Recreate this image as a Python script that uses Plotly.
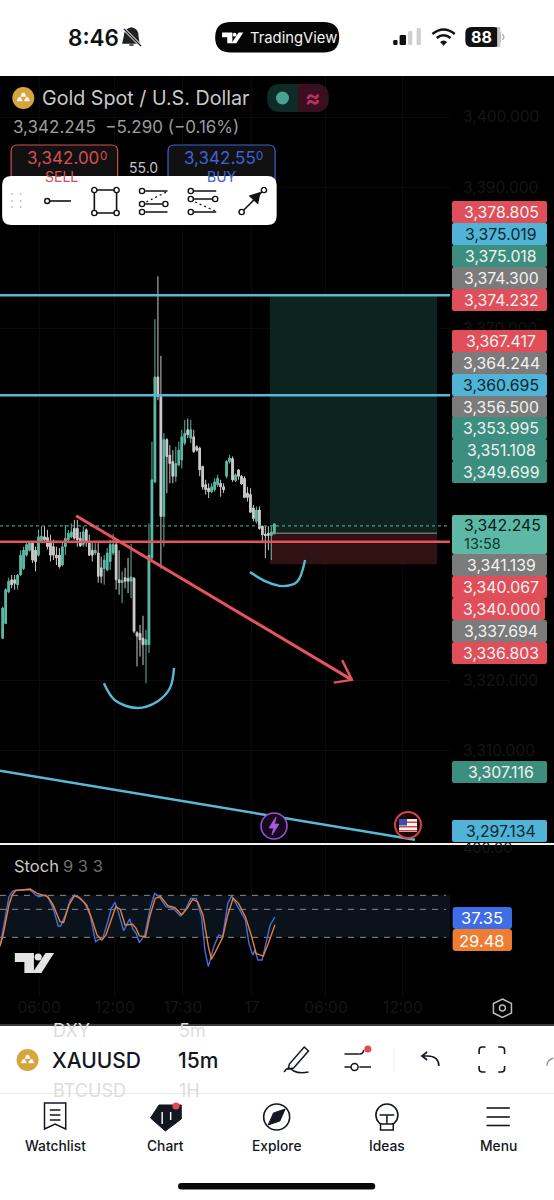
"""XAUUSD 15m phone screenshot rebuilt with plotly (candles + Stoch + app chrome)."""
import re

import plotly.graph_objects as go

W, H = 554, 1200

# 15m candles
opens = [3326.0, 3328.1, 3332.6, 3334.3, 3334.3, 3333.6, 3335.0, 3335.9, 3337.8, 3338.5, 3339.5, 3338.5,
         3337.8, 3339.7, 3340.4, 3340.3, 3339.7, 3339.0, 3337.8, 3337.8, 3336.4, 3339.0, 3340.0, 3340.4,
         3341.6, 3341.6, 3340.2, 3339.3, 3341.4, 3339.7, 3338.5, 3338.1, 3338.1, 3336.0, 3335.9, 3335.7,
         3336.9, 3338.1, 3339.3, 3334.3, 3333.9, 3334.6, 3334.5, 3334.1, 3334.5, 3326.8, 3326.7, 3326.0,
         3325.1, 3325.1, 3337.4, 3348.2, 3363.1, 3360.3, 3343.3, 3354.2, 3352.0, 3351.1, 3349.0, 3350.6,
         3351.3, 3353.7, 3355.6, 3354.4, 3354.6, 3353.2, 3353.0, 3350.4, 3347.8, 3347.3, 3346.8, 3347.1,
         3347.8, 3348.0, 3347.5, 3349.0, 3351.1, 3351.5, 3348.4, 3349.9, 3349.0, 3348.7, 3346.6, 3346.4,
         3344.5, 3342.6, 3344.2, 3341.9, 3340.8, 3340.9, 3340.6, 3340.9]
highs = [3330.5, 3333.1, 3334.6, 3335.0, 3335.0, 3335.1, 3338.5, 3339.0, 3339.5, 3339.6, 3339.7, 3339.0,
         3341.4, 3341.9, 3341.9, 3341.4, 3340.7, 3340.0, 3339.0, 3338.8, 3339.7, 3342.1, 3341.4, 3342.3,
         3342.8, 3342.8, 3341.1, 3341.9, 3341.6, 3340.7, 3339.5, 3339.5, 3339.5, 3337.6, 3337.8, 3338.8,
         3340.0, 3340.8, 3340.0, 3338.5, 3335.5, 3336.0, 3337.4, 3339.4, 3334.7, 3327.0, 3327.9, 3329.2,
         3327.2, 3342.3, 3353.9, 3371.3, 3377.4, 3366.1, 3355.1, 3354.4, 3353.4, 3352.7, 3353.2, 3353.9,
         3355.6, 3357.0, 3357.2, 3357.0, 3355.6, 3353.4, 3353.2, 3350.5, 3348.5, 3348.0, 3348.0, 3348.7,
         3349.2, 3348.5, 3348.0, 3351.3, 3352.0, 3351.8, 3349.4, 3350.0, 3349.2, 3349.0, 3347.5, 3347.3,
         3344.9, 3344.7, 3344.7, 3342.0, 3341.9, 3341.9, 3341.9, 3342.2]
lows = [3325.9, 3328.0, 3332.4, 3333.1, 3332.9, 3332.9, 3334.8, 3335.7, 3337.6, 3338.3, 3336.7, 3335.5,
        3337.6, 3339.5, 3339.5, 3338.6, 3336.9, 3337.1, 3336.4, 3335.9, 3336.2, 3337.8, 3339.7, 3340.2,
        3340.0, 3339.0, 3339.0, 3339.0, 3339.0, 3337.7, 3336.9, 3337.8, 3333.9, 3333.8, 3333.6, 3335.5,
        3335.7, 3337.8, 3332.9, 3332.2, 3331.0, 3333.1, 3332.4, 3331.7, 3326.7, 3322.0, 3323.4, 3322.2,
        3319.6, 3323.9, 3337.1, 3348.0, 3359.8, 3335.9, 3339.0, 3346.6, 3348.0, 3348.0, 3348.2, 3350.4,
        3350.1, 3353.4, 3354.4, 3353.7, 3352.3, 3352.5, 3349.0, 3347.1, 3346.4, 3345.9, 3346.6, 3346.8,
        3347.5, 3346.1, 3346.6, 3348.7, 3350.8, 3348.2, 3348.2, 3348.5, 3347.8, 3345.9, 3345.4, 3343.8,
        3342.6, 3342.3, 3341.4, 3339.5, 3337.4, 3338.5, 3337.1, 3340.7]
closes = [3330.3, 3332.9, 3334.1, 3333.6, 3333.8, 3335.0, 3337.8, 3338.5, 3339.3, 3339.5, 3337.1, 3336.9,
          3340.4, 3340.5, 3340.0, 3339.0, 3337.8, 3337.8, 3337.4, 3336.2, 3339.0, 3340.2, 3340.9, 3341.1,
          3340.2, 3340.0, 3339.1, 3341.1, 3339.7, 3337.8, 3337.8, 3338.5, 3334.8, 3334.8, 3337.1, 3338.1,
          3339.3, 3339.3, 3334.3, 3333.9, 3334.2, 3334.1, 3334.1, 3334.7, 3327.0, 3326.3, 3325.8, 3325.1,
          3325.8, 3337.8, 3348.5, 3363.1, 3360.3, 3343.3, 3354.2, 3351.8, 3350.8, 3349.0, 3350.8, 3352.7,
          3354.6, 3355.1, 3354.9, 3355.6, 3352.5, 3352.7, 3349.9, 3347.5, 3347.1, 3346.8, 3347.5, 3348.2,
          3348.7, 3347.5, 3347.1, 3351.1, 3351.6, 3348.5, 3349.2, 3349.0, 3347.9, 3346.0, 3346.0, 3343.9,
          3343.0, 3344.2, 3341.6, 3340.7, 3340.6, 3340.6, 3341.1, 3342.245]

# Stoch 9 3 3 (bar position, value)
k_bars = [-0.9, -0.3, 0.9, 2.1, 3.2, 4.4, 6.2, 9.2, 11, 12.1, 14.5, 15.6, 16.9, 18.6, 19.4, 21, 22.7, 24,
          25.7, 27.5, 29.3, 31.1, 32.3, 33.4, 35.2, 36.4, 37.6, 38.7, 40.5, 41.7, 42.6, 43.5, 44.7, 45.8, 47.6,
          49.4, 50.9, 52.4, 54.7, 57.1, 59.5, 61.2, 63, 64.8, 66.6, 67.8, 68.9, 70.7, 72.4, 73.7, 75.4, 76.7,
          77.8, 79.5, 81.3, 82.5, 83.8, 84.5, 85.5, 86.9, 88.4, 89.6, 91.2]
k_vals = [8, 17.7, 37.7, 57.7, 62.7, 64.4, 64.4, 64.4, 59.4, 57.7, 59.4, 54.4, 46, 28.4, 28.4, 39.4, 54.4, 59.4,
          56, 51, 39.4, 12.7, 15, 15, 32.7, 46, 52, 42.7, 23.7, 31, 35.4, 26, 21, 11.7, 19.4,
          46, 61, 57.7, 47.7, 46, 38.4, 44.4, 56, 56, 37.7, 2.7, -12.3, 7.7, 19.4, 17.7, 51, 58.4,
          52.7, 42.7, 34.4, 11, -0.7, 4.4, -5.7, -5.7, 14.4, 29.4, 37.35]
d_bars = [-0.9, 0, 0.9, 2.1, 3.2, 4.4, 9.2, 11.5, 13.3, 15.1, 16.9, 19.2, 20.4, 22.2, 24, 25.7, 28.1, 29.8,
          31.6, 33.2, 34.6, 36.4, 37.9, 39.4, 41, 43.5, 44.7, 45.8, 47.8, 49.4, 51.1, 52.9, 55.3, 57.7, 60,
          61.8, 63.6, 65.3, 67.1, 68.9, 69.9, 71.3, 73.7, 75.4, 77.2, 79, 81.3, 83.1, 84.9, 87.3, 89, 91.2]
d_vals = [8.35, 17.7, 31, 49.4, 59.4, 63.7, 65.4, 61, 59.4, 57.7, 49.4, 32.7, 31.7, 49.4, 58.4, 57, 49.4, 36,
          19.4, 14.4, 19.4, 34.4, 47.7, 45, 29.4, 30, 26, 18.4, 17.7, 39.4, 56, 57.7, 48.7, 46.7, 39.4,
          46, 55, 52.7, 39.4, 7.7, -5, 2.7, 17, 39.4, 56, 51, 37.7, 21, 1, -1.7, 11, 29.48]
stoch_levels = [59, 45, 17]

# drawings on the chart (bar position, price)
trend_bars, trend_prices = [24.6, 117], [3343.4, 3320.1]
head_bars, head_prices = [110.9, 117, 113.7], [3319.7, 3320.1, 3322.9]
smile1_bars = [33.9, 37.6, 45, 51.7, 56, 57.4]
smile1_prices = [3319.6, 3317.2, 3316.1, 3317, 3318.9, 3321.8]
smile2_bars = [82.8, 88.5, 93.9, 98.6, 101.3]
smile2_prices = [3335.4, 3334, 3333.4, 3334, 3337.1]
slope_bars, slope_prices = [-0.9, 138.1], [3307.2, 3297.4]
blue_levels = [3374.7, 3360.5]
red_level = 3339.7
last_level = 3341.95
long_bars = [89.5, 145.5]
long_prices = [3374.6, 3340.9, 3336.5]

# axis labels (the rest of the scale sits behind the price tags)
price_ticks = [3310, 3320, 3370, 3390, 3400]
time_ticks = [12.2, 37.6, 60.4, 83.5, 108.3, 134.1]
time_labels = ["06:00", "12:00", "17:30", "17", "06:00", "12:00"]

# price tags down the right edge
tag_labels = ["3,378.805", "3,375.019", "3,375.018", "3,374.300", "3,374.232", "3,367.417", "3,364.244",
              "3,360.695", "3,356.500", "3,353.995", "3,351.108", "3,349.699", "3,341.139", "3,340.067",
              "3,340.000", "3,337.694", "3,336.803", "3,307.116", "3,297.134"]
tag_kinds = ["r", "b", "g", "k", "r", "r", "k", "b", "k", "g", "g", "g", "k", "r", "r", "k", "r", "g", "b"]
tag_rows = [212, 234, 256, 278, 300, 341, 363, 385, 407, 428, 450, 472, 565, 587, 609, 631, 653, 772, 831]

TAG_COLOR = {"r": "#e04f59", "b": "#4fb4d6", "g": "#3c8f7e", "k": "#7b7b7b"}
TEAL, GREY, RED, BLUE = "#5cb8a5", "#c9c9c9", "#e5535b", "#56b9d8"
UI = "Inter, Roboto, sans-serif"

shapes, notes = [], []
x_left, x_right = -0.9, 149.85

# chrome x positions were measured on a crop that came back narrower than 3x
sx = 1.0


def px(x):
    return x * sx / W


def py(y):
    return 1 - y / H


def P(d):
    # svg path in screen pixels -> paper coordinates
    is_x = [True]

    def conv(m):
        v = float(m.group())
        r = px(v) if is_x[0] else py(v)
        is_x[0] = not is_x[0]
        return f"{r:.5f}"
    return re.sub(r"-?\d+\.?\d*", conv, d)


def rect(x0, y0, x1, y1, fill, line=None, lw=1, r=0, layer="above"):
    if r:
        d = (f"M{x0 + r} {y0} L{x1 - r} {y0} Q{x1} {y0} {x1} {y0 + r} L{x1} {y1 - r} Q{x1} {y1} {x1 - r} {y1} "
             f"L{x0 + r} {y1} Q{x0} {y1} {x0} {y1 - r} L{x0} {y0 + r} Q{x0} {y0} {x0 + r} {y0} Z")
        shapes.append(dict(type="path", path=P(d), xref="paper", yref="paper", fillcolor=fill,
                           line=dict(color=line or fill, width=lw if line else 0), layer=layer))
    else:
        shapes.append(dict(type="rect", x0=px(x0), x1=px(x1), y0=py(y0), y1=py(y1), xref="paper", yref="paper",
                           fillcolor=fill, line=dict(color=line or fill, width=lw if line else 0), layer=layer))


def circ(x, y, r, fill="rgba(0,0,0,0)", line=None, lw=1.4):
    shapes.append(dict(type="circle", x0=px(x) - r / W, x1=px(x) + r / W, y0=py(y + r), y1=py(y - r), xref="paper",
                       yref="paper", fillcolor=fill, line=dict(color=line or fill, width=lw if line else 0)))


def stroke(d, color="#111", lw=1.6, dash=None, fill=None):
    shapes.append(dict(type="path", path=P(d), xref="paper", yref="paper", fillcolor=fill or "rgba(0,0,0,0)",
                       line=dict(color=color, width=lw, dash=dash or "solid")))


def txt(x, y, s, size, color, anchor="left", weight=400, font=UI):
    notes.append(dict(x=px(x), y=py(y), xref="paper", yref="paper", text=s, showarrow=False, xanchor=anchor,
                      yanchor="middle", font=dict(size=size, color=color, family=font, weight=weight)))


def tv_logo(x, y, s, color):
    # TradingView mark, s = width/37
    stroke(f"M{x} {y} L{x + 18 * s} {y} L{x + 18 * s} {y + 20 * s} L{x + 9 * s} {y + 20 * s} L{x + 9 * s} {y + 9 * s} "
           f"L{x} {y + 9 * s} Z", color, 0, fill=color)
    circ(x + 22 * s, y + 4 * s, 3.6 * s, color)
    stroke(f"M{x + 29 * s} {y} L{x + 37 * s} {y} L{x + 25 * s} {y + 20 * s} L{x + 16.5 * s} {y + 20 * s} Z", color, 0,
           fill=color)


bars = list(range(len(opens)))
fig = go.Figure()
fig.add_trace(go.Candlestick(
    x=bars, open=opens, high=highs, low=lows, close=closes,
    increasing=dict(line=dict(color=TEAL, width=1), fillcolor=TEAL),
    decreasing=dict(line=dict(color=GREY, width=1), fillcolor=GREY),
    xaxis="x", yaxis="y", showlegend=False,
))
# plotly's candle bodies are too slim at this zoom, thicken them
fig.add_trace(go.Bar(
    x=bars, base=[min(o, c) for o, c in zip(opens, closes)], y=[abs(c - o) for o, c in zip(opens, closes)],
    width=0.82, marker=dict(color=[TEAL if c >= o else GREY for o, c in zip(opens, closes)], line=dict(width=0)),
    xaxis="x", yaxis="y", showlegend=False,
))
# drawings
for bx, pr, col, shape, lw in [(trend_bars, trend_prices, RED, "linear", 3), (head_bars, head_prices, RED, "linear", 2.4),
                               (slope_bars, slope_prices, BLUE, "linear", 2.6),
                               (smile1_bars, smile1_prices, BLUE, "spline", 2.4),
                               (smile2_bars, smile2_prices, BLUE, "spline", 2.4)]:
    fig.add_trace(go.Scatter(x=bx, y=pr, mode="lines", line=dict(color=col, width=lw, shape=shape),
                             xaxis="x", yaxis="y", showlegend=False))
# stoch
fig.add_trace(go.Scatter(x=k_bars, y=k_vals, mode="lines", line=dict(color="#3f6fe0", width=1.4),
                         xaxis="x", yaxis="y2", showlegend=False))
fig.add_trace(go.Scatter(x=d_bars, y=d_vals, mode="lines", line=dict(color="#ee7d32", width=1.4),
                         xaxis="x", yaxis="y2", showlegend=False))

# long position box + levels, in data coordinates
shapes.append(dict(type="rect", xref="x", yref="y", x0=long_bars[0], x1=long_bars[1], y0=long_prices[1],
                   y1=long_prices[0], fillcolor="#0c231f", line=dict(width=0), layer="between"))
shapes.append(dict(type="rect", xref="x", yref="y", x0=long_bars[0], x1=long_bars[1], y0=long_prices[2],
                   y1=long_prices[1], fillcolor="#301114", line=dict(width=0), layer="between"))
shapes.append(dict(type="line", xref="x", yref="y", x0=long_bars[0], x1=long_bars[1], y0=long_prices[1],
                   y1=long_prices[1], line=dict(color="#6f6f6f", width=1.4), layer="between"))
for lv in blue_levels:
    shapes.append(dict(type="line", xref="x domain", yref="y", x0=0, x1=1, y0=lv, y1=lv,
                       line=dict(color=BLUE, width=2.6)))
shapes.append(dict(type="line", xref="x domain", yref="y", x0=0, x1=1, y0=red_level, y1=red_level,
                   line=dict(color=RED, width=2.6)))
shapes.append(dict(type="line", xref="x domain", yref="y", x0=0, x1=1, y0=last_level, y1=last_level,
                   line=dict(color=TEAL, width=1, dash="dot")))
# stoch band and levels
shapes.append(dict(type="rect", xref="x", yref="y2", x0=x_left, x1=x_right, y0=stoch_levels[2], y1=stoch_levels[0],
                   fillcolor="#0a121c", line=dict(width=0), layer="between"))
for lv in stoch_levels:
    shapes.append(dict(type="line", xref="x", yref="y2", x0=x_left, x1=x_right - 1.3, y0=lv, y1=lv,
                       line=dict(color="#8a8a8a", width=1, dash="6px,6px"), layer="between"))

# event icons on the chart
circ(274, 826, 13, "#16081f", "#9b4fd0", 1.6)
stroke("M276 817 L269 828 L273.5 828 L272 835 L279 824 L274.5 824 Z", "#a65bdb", 0.8, fill="#a65bdb")
circ(408, 825, 13, "#1a0808", "#d8404a", 2)
rect(399, 819, 417, 832, "#f4f4f4")
for yy in (821.5, 826, 830):
    rect(399, yy, 417, yy + 1.5, "#d8404a")
rect(399, 819, 407, 825.5, "#3a4fb0")

# price tags
for lab, kind, row in zip(tag_labels, tag_kinds, tag_rows):
    rect(452, row - 11, 547 if lab != "3,340.000" else 545, row + 11, TAG_COLOR[kind], r=2)
    txt(501, row + 0.5, lab, 15.8, "#0c2632" if kind == "b" else "#f2f2f2", "center")
rect(452, 515, 547, 554, "#5db9a5", r=2)
txt(462, 525, "3,342.245", 15.8, "#06201a")
txt(462, 543, "13:58", 14.5, "#0c3a30")

sx = 1.06
rect(427, 907, 483, 929, "#3d6ee8", r=3)
txt(455, 918, "37.35", 16.5, "#ffffff", "center")
rect(427, 929, 483, 951, "#ee7d32", r=3)
txt(455, 941, "29.48", 16.5, "#ffffff", "center")

# header over chart
circ(22, 98, 11, "#d6a53e")
stroke("M16 101 L21 101 L19.5 97.5 L17.5 97.5 Z M23 101 L28 101 L26.5 97.5 L24.5 97.5 Z M19.5 96.5 L24.5 96.5 L23 93 L21 93 Z",
       "#fff", 0.4, fill="#fff")
txt(38, 98, "Gold Spot / U.S. Dollar", 19.7, "#c9c9c9")
rect(252, 84, 310, 112, "#0f2b27", r=13)
rect(284, 84, 310, 112, "#3a0f1f", r=13)
rect(281, 84, 292, 112, "#3a0f1f")
circ(266.5, 98, 6.5, "#4aa391")
txt(295.5, 98, "≈", 23, "#b8305e", "center", 700)
txt(10.5, 127, "3,342.245  −5.290 (−0.16%)", 17, "#9c9c9c")
rect(10.5, 145, 111, 190, "#111", "#d94c56", 1.2, r=6)
rect(158.5, 145, 259.5, 190, "#111", "#3c63d8", 1.2, r=6)
txt(24, 158, "3,342.00", 17, "#d94c56")
txt(92, 156, "0", 11.5, "#d94c56")
txt(172, 158, "3,342.55", 17, "#3c63d8")
txt(240, 156, "0", 11.5, "#3c63d8")
txt(58, 176, "SELL", 14, "#d94c56", "center")
txt(209, 176, "BUY", 14, "#3c63d8", "center")
txt(135, 167, "55.0", 14, "#c4c4c4", "center")

# drawing toolbar
rect(2, 176, 261, 225, "#ffffff", r=9)
for gx in (11.5, 19.5):
    for gy in (194, 201, 207):
        circ(gx, gy, 1, "#c4c4c4")
LW = 1.4
stroke("M47 201 L67 201")
circ(44.5, 201, 2.5, "#fff", "#111", LW)
stroke("M89 190 L110 190 L110 213 L89 213 Z")
for cx, cy in [(89, 190), (110, 190), (89, 213), (110, 213)]:
    circ(cx, cy, 2.6, "#fff", "#111", LW)
stroke("M137 191 L158 191 M137 204 L153 204 M137 212 L158 212")
stroke("M138 202 L157 192", dash="2px,3px", lw=1.2)
for cx, cy in [(134, 191), (134, 204), (134, 212), (156, 204)]:
    circ(cx, cy, 2.6, "#fff", "#111", LW)
stroke("M183 191 L204 191 M183 199 L200 199 M183 212 L204 212")
stroke("M184 202 L203 211", dash="2px,3px", lw=1.2)
for cx, cy in [(180, 191), (180, 199), (180, 212), (203, 199)]:
    circ(cx, cy, 2.6, "#fff", "#111", LW)
stroke("M230 210 L247 192")
stroke("M245 193 L236 196 L243 203 Z", fill="#111")
circ(228, 212, 2.6, "#fff", "#111", LW)
circ(249, 190, 2.6, "#fff", "#111", LW)

# stoch pane text
rect(0, 843, W, 845, "#f2f2f2")
txt(11.5, 866, "Stoch", 16.5, "#c9c9c9")
txt(57.5, 866, "9 3 3", 16.5, "#6f6f6f")
txt(435, 847, "400.00", 14.5, "#161616")
tv_logo(14, 953, 1, "#e4e4e4")
stroke("M474 999 L482.5 1003.5 L482.5 1013 L474 1017.5 L465.5 1013 L465.5 1003.5 Z", "#bdbdbd", 1.5)
circ(474, 1008, 3, "#000", "#bdbdbd", 1.5)

# white chrome, top and bottom
rect(0, 0, W, 76, "#ffffff")
rect(0, 1025, W, H, "#ffffff")
rect(0, 1024, W, 1026, "#3a3a3a")
txt(62, 38, "8:46", 22.5, "#111", weight=600)
stroke("M124 28 Q130 29 130 36 L131 43 L116 43 L117.5 36 Q118 29 124 28 Z M122 45 L126 45", "#222", 1.4, fill="#222")
stroke("M117 29 L133 46", "#fff", 3)
stroke("M117 29 L133 46", "#222", 1.3)
rect(203, 22, 320, 52.5, "#050505", r=15)
tv_logo(209.5, 32.5, 0.54, "#ffffff")
txt(233.5, 37.5, "TradingView", 14.8, "#f2f2f2")
for x0, x1, y0, col in [(371, 375, 40, "#111"), (377, 383, 35, "#111"), (385, 389, 31, "#cfcfcf"), (393, 397, 28, "#cfcfcf")]:
    rect(x0, y0, x1, 45, col, r=1)
stroke("M408 34 Q418.5 25 429 34", "#111", 2.6)
stroke("M412 38 Q418.5 32.5 425 38", "#111", 2.6)
stroke("M415.5 42 L418.5 45.5 L421.5 42 Q418.5 39.5 415.5 42 Z", "#111", 0.5, fill="#111")
rect(439, 27, 472, 47, "#111", r=6)
rect(469, 27, 472, 47, "#c8c8c8")
stroke("M474 34 Q476.5 37 474 40", "#b8b8b8", 1.6)
txt(454, 37, "88", 16, "#fff", "center", 700)

txt(48, 1030, "DXY", 18, "#dddddd")
txt(167, 1030, "5m", 18, "#dddddd")
txt(48, 1090, "BTCUSD", 18, "#dddddd")
txt(167, 1090, "1H", 18, "#dddddd")
rect(0, 1093, W, 1094, "#ececec")
circ(26, 1060, 11, "#d6a53e")
stroke("M20 1063 L25 1063 L23.5 1059.5 L21.5 1059.5 Z M27 1063 L32 1063 L30.5 1059.5 L28.5 1059.5 Z M23.5 1058.5 L28.5 1058.5 L27 1055 L25 1055 Z",
       "#fff", 0.4, fill="#fff")
txt(47, 1060, "XAUUSD", 21, "#131722", weight=500)
txt(166, 1060, "15m", 21, "#131722", weight=500)
# pen
stroke("M287 1047 L291 1051 L277 1068 L272 1069 L273 1064 Z", "#131722", 1.5)
stroke("M268 1072 Q272 1065 277 1071 Q283 1074 291 1072", "#131722", 1.5)
# sliders
stroke("M325 1054 L339 1054 M325 1067 L331 1067 M339 1067 L350 1067", "#131722", 1.5)
stroke("M339 1054 Q343 1054 343 1050", "#131722", 1.5)
circ(334.5, 1067, 3.5, "#fff", "#131722", 1.5)
circ(347, 1049, 3.5, "#e5484d")
rect(371, 1048, 372, 1072, "#f0f0f0")
# undo
stroke("M414 1066 Q414 1056 403 1056 L398 1056 M403 1052 L398 1056 L403 1060", "#131722", 1.6)
# fullscreen
stroke("M452 1054 L452 1050 Q452 1047 455 1047 L458 1047 M470 1047 L473 1047 Q476 1047 476 1050 L476 1054 "
       "M476 1066 L476 1069 Q476 1072 473 1072 L470 1072 M458 1072 L455 1072 Q452 1072 452 1069 L452 1066", "#131722", 1.6)
stroke("M516 1066 Q516 1060 522 1058", "#999999", 1.4)

# bottom nav
stroke("M42 1103 L62 1103 L62 1129 L52 1124 L42 1129 Z", "#131722", 1.5)
stroke("M47 1110 L57 1110 M47 1115 L57 1115 M47 1120 L57 1120", "#131722", 1.5)
stroke("M150 1105 L171 1105 L171 1119 L156 1131 L142 1118 Z", "#131722", 1, fill="#131722")
stroke("M153 1112 L153 1124 M161 1112 L161 1120", "#ffffff", 1.4)
circ(166, 1106, 3.6, "#e5484d")
circ(261, 1117, 13, "#fff", "#131722", 1.6)
stroke("M269 1109 L264 1121 L253 1125 L258 1113 Z", "#131722", 1, fill="#131722")
circ(365, 1115, 11, "#fff", "#131722", 1.6)
stroke("M358 1115 L372 1115 M365 1115 L365 1124", "#131722", 1.5)
rect(359, 1124, 371, 1130, "#fff", "#131722", 1.5)
for yy in (1108, 1117, 1125.5):
    rect(459, yy - 0.8, 481, yy + 0.8, "#131722")
for cx, lab in [(52, "Watchlist"), (156.5, "Chart"), (261, "Explore"), (365, "Ideas"), (470, "Menu")]:
    txt(cx, 1146, lab, 13.8, "#131722", "center", 500)
rect(168, 1183, 354, 1189.5, "#0a0a0a", r=3)

fig.update_layout(
    width=W, height=H,
    margin=dict(l=0, r=0, t=0, b=0),
    paper_bgcolor="#000000", plot_bgcolor="#000000",
    showlegend=False,
    font=dict(family=UI),
    xaxis=dict(domain=[0, 450 / W], range=[x_left, x_right], anchor="y2", rangeslider=dict(visible=False),
               tickmode="array", tickvals=time_ticks, ticktext=time_labels, tickfont=dict(size=15.5, color="#161616"),
               ticks="", showline=False, zeroline=False, gridcolor="#0b0b0b", gridwidth=1),
    yaxis=dict(domain=[py(842), py(76)], range=[3297.08, 3405.82], side="right", anchor="x", tickmode="array",
               tickvals=price_ticks, tickformat=",.3f", tickfont=dict(size=15.5, color="#161616"),
               ticks="", ticklabelstandoff=12, showline=False, zeroline=False, gridcolor="#0b0b0b", gridwidth=1),
    yaxis2=dict(domain=[py(996), py(845)], range=[-41.65, 109.35], side="right", anchor="x", showticklabels=False,
                ticks="", showline=False, zeroline=False, showgrid=False),
    shapes=shapes,
    annotations=notes,
)

# browser's default body margin would push the 554 wide figure off by 8px
fig.write_html("out.html", config={"displayModeBar": False}, post_script="document.body.style.margin='0';")
